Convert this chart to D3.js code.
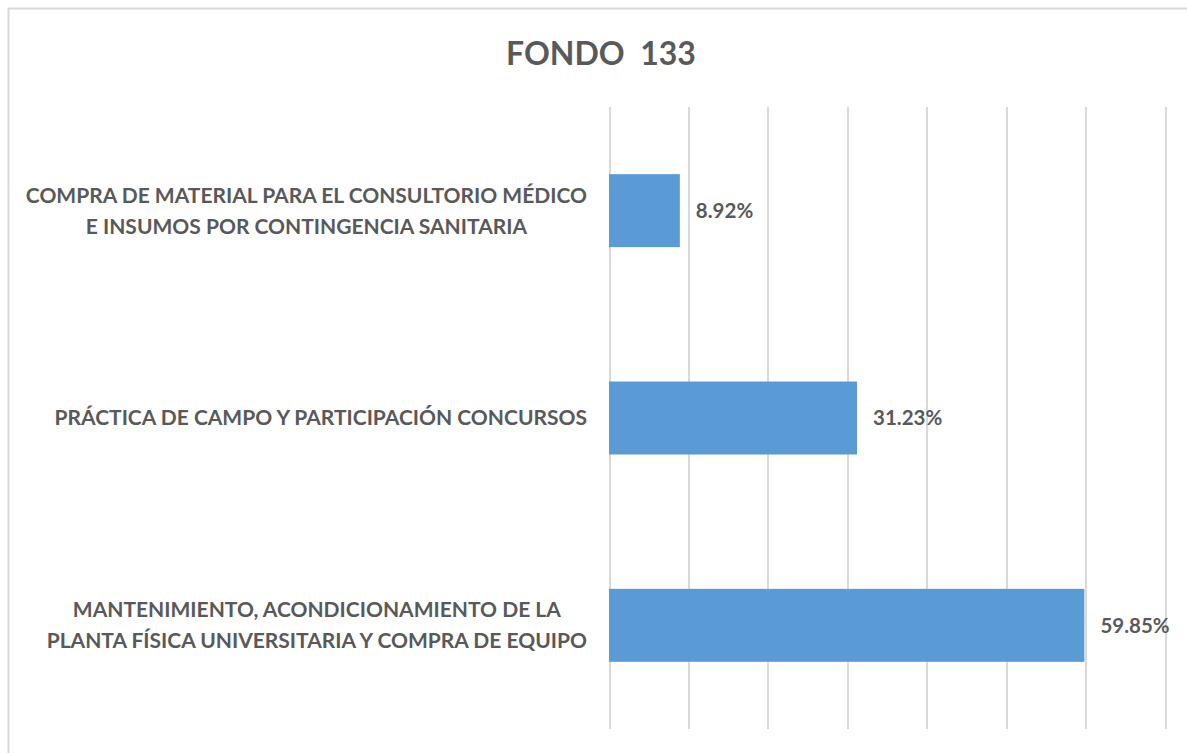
<!DOCTYPE html>
<html>
<head>
<meta charset="utf-8">
<script src="https://cdn.jsdelivr.net/npm/d3@7"></script>
<style>
    body { margin: 0; background: #fff; }
    .chart text { font-family: Lato, "Open Sans", sans-serif; font-weight: bold; fill: #595959; white-space: pre; }
    .grid line { stroke: #d9d9d9; stroke-width: 2; shape-rendering: crispEdges; }
    .grid path { display: none; }
</style>
</head>
<body>
<svg class="chart"></svg>
<script>
    var title = "FONDO  133";
    var categories = [
        ["COMPRA DE MATERIAL PARA EL CONSULTORIO MÉDICO", "E INSUMOS POR CONTINGENCIA SANITARIA"],
        ["PRÁCTICA DE CAMPO Y PARTICIPACIÓN CONCURSOS"],
        ["MANTENIMIENTO, ACONDICIONAMIENTO DE LA", "PLANTA FÍSICA UNIVERSITARIA Y COMPRA DE EQUIPO"]
    ];
    var values = [0.0892, 0.3123, 0.5985];
    var gridTicks = [0, 0.1, 0.2, 0.3, 0.4, 0.5, 0.6, 0.7];

    var width = 1187, height = 753;
    var plotLeft = 609, plotRight = 1165, plotTop = 107, plotBottom = 729;

    var chart = d3.select(".chart").attr("width", width).attr("height", height);

    // frame
    chart.append("rect")
        .attr("x", 8.5).attr("y", 8.5)
        .attr("width", width + 10).attr("height", height + 10)
        .attr("fill", "#fff").attr("stroke", "#d9d9d9").attr("stroke-width", 2);

    var x = d3.scaleLinear().domain([0, 0.7]).range([plotLeft, plotRight]);
    var y = d3.scaleBand().domain(d3.range(values.length)).range([plotTop, plotBottom]).paddingInner(0.648).paddingOuter(0.324);

    // gridlines
    chart.append("g")
        .attr("class", "grid")
        .attr("transform", "translate(0," + plotBottom + ")")
        .call(d3.axisBottom(x).tickValues(gridTicks).tickSize(-(plotBottom - plotTop)).tickFormat(""));

    chart.append("text")
        .attr("x", 601).attr("y", 65)
        .attr("text-anchor", "middle")
        .style("font-size", "32px")
        .text(title);

    chart.selectAll(".bar")
        .data(values)
        .enter().append("rect")
        .attr("class", "bar")
        .attr("x", x(0))
        .attr("y", function (d, i) { return y(i); })
        .attr("width", function (d) { return x(d) - x(0); })
        .attr("height", y.bandwidth())
        .attr("fill", "#5b9bd5");

    chart.selectAll(".val")
        .data(values)
        .enter().append("text")
        .attr("class", "val")
        .attr("x", function (d) { return x(d) + 16; })
        .attr("y", function (d, i) { return y(i) + y.bandwidth() / 2; })
        .attr("dy", "0.35em")
        .style("font-size", "20.5px")
        .text(function (d) { return (d * 100).toFixed(2) + "%"; });

    // category labels: block right-aligned, lines centered inside block
    var lineH = 31;
    categories.forEach(function (lines, i) {
        var g = chart.append("g");
        var texts = lines.map(function (t, k) {
            return g.append("text")
                .style("font-size", "21px")
                .attr("text-anchor", "middle")
                .attr("y", y(i) + y.bandwidth() / 2 + (k - (lines.length - 1) / 2) * lineH)
                .attr("dy", "0.35em")
                .text(t);
        });
        var maxW = d3.max(texts, function (t) { return t.node().getComputedTextLength(); });
        texts.forEach(function (t) { t.attr("x", 587 - maxW / 2); });
    });
</script>
</body>
</html>
